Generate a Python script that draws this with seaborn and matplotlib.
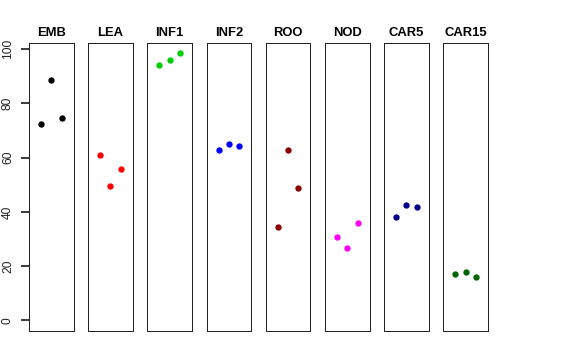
import numpy as np
import pandas as pd
import seaborn as sns
import matplotlib.pyplot as plt

tissues = ["EMB", "LEA", "INF1", "INF2", "ROO", "NOD", "CAR5", "CAR15"]
colors = ["black", "#FF0000", "#00CD00", "#0000FF", "#8B0000", "#FF00FF", "#00008B", "#006400"]
replicate = [1, 2, 3]
emb = [72.2, 88.6, 74.6]
lea = [61.0, 49.5, 55.6]
inf1 = [94.0, 95.9, 98.4]
inf2 = [62.6, 65.0, 64.1]
roo = [34.3, 62.9, 48.6]
nod = [30.9, 26.7, 36.0]
car5 = [38.2, 42.6, 41.9]
car15 = [17.0, 17.7, 16.0]
yticks = [0, 20, 40, 60, 80, 100]

values = [emb, lea, inf1, inf2, roo, nod, car5, car15]
df = pd.DataFrame({
    "tissue": np.repeat(tissues, 3),
    "rep": replicate * len(tissues),
    "value": np.concatenate(values),
})

sns.set_style("ticks", {"axes.edgecolor": "#222222", "ytick.color": "#222222",
                        "text.color": "black"})
plt.rcParams["font.family"] = ["Liberation Sans", "DejaVu Sans"]

fig, axes = plt.subplots(1, len(tissues), figsize=(8, 5), dpi=72)
fig.subplots_adjust(left=0.0503, right=0.8472, bottom=0.0806, top=0.8806, wspace=0.327)

for ax, name, col in zip(axes, tissues, colors):
    sub = df[df["tissue"] == name]
    sns.scatterplot(data=sub, x="rep", y="value", color=col, s=40, linewidth=0, ax=ax)
    ax.set_xlim(-0.16, 4.16)
    ax.set_ylim(-3.9, 102.2)
    ax.set_xticks([])
    ax.set_yticks([])
    ax.set_xlabel("")
    ax.set_ylabel("")
    ax.set_title(name, fontsize=13, fontweight="bold", pad=7, color="black")
    for sp in ax.spines.values():
        sp.set_visible(True)
        sp.set_color("#222222")
        sp.set_linewidth(1.0)

# y axis on the first panel only, R style
ax0 = axes[0]
ax0.set_yticks(yticks)
ax0.set_yticklabels([str(t) for t in yticks], va="center")
ax0.tick_params(axis="y", which="major", left=True, length=8, width=1.5, pad=7,
                color="black", labelcolor="#222222", labelsize=12,
                labelrotation=90, direction="out")
for tick in ax0.yaxis.get_major_ticks():
    tick.tick1line.set_visible(True)
    tick.tick1line.set_markeredgecolor("black")
    tick.tick1line.set_markeredgewidth(1.5)

fig.savefig("out.png", dpi=72)
